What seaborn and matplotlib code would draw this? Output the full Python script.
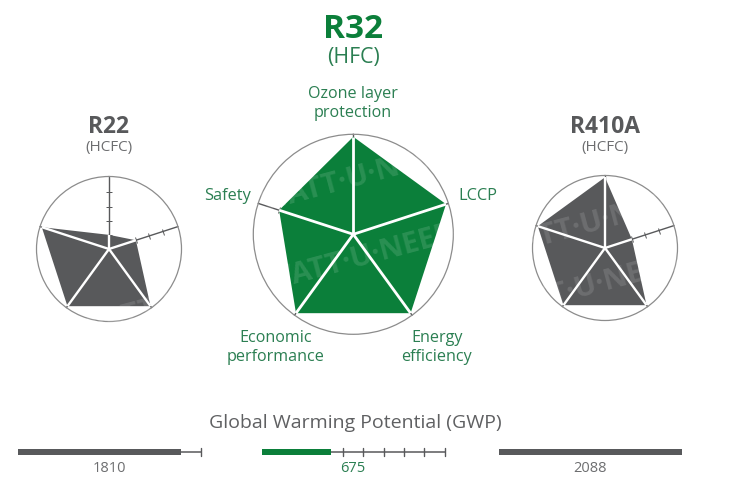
import numpy as np
import matplotlib
matplotlib.use("Agg")
import matplotlib.pyplot as plt
from matplotlib.markers import MarkerStyle
from matplotlib.transforms import Affine2D
import seaborn as sns

# Data
axes_labels = ["Ozone layer\nprotection", "LCCP", "Energy\nefficiency", "Economic\nperformance", "Safety"]
r22_scores = [1, 2, 5, 5, 5]
r32_scores = [5, 5, 5, 5, 4]
r410a_scores = [5, 2, 5, 5, 5]
refrigerants = ["R22", "R32", "R410A"]
families = ["(HCFC)", "(HFC)", "(HCFC)"]
gwp_labels = ["1810", "675", "2088"]
gwp_bar_fraction = [0.89, 0.375, 1.0]   # filled share of each gauge, as drawn

GREEN = "#0B7F3A"
GREEN_TEXT = "#2B7F52"
GRAY = "#58595B"
GRAY_TEXT = "#6D6E70"
RING = "#8C8C8C"
MAX_R = 5 / 0.975

sns.set_theme(style="white")
plt.rcParams["font.family"] = ["Open Sans", "DejaVu Sans"]
W, H = 747, 500
fig = plt.figure(figsize=(W / 100, H / 100), dpi=100, facecolor="white")


def pixel_rect(x0, y0, x1, y1):
    return [x0 / W, 1 - y1 / H, (x1 - x0) / W, (y1 - y0) / H]


def radar(cx, cy, R, scores, color, watermarks):
    ax = fig.add_axes(pixel_rect(cx - R, cy - R, cx + R, cy + R), projection="polar")
    ax.set_theta_zero_location("N")
    ax.set_theta_direction(-1)
    ax.set_ylim(0, MAX_R)
    ax.set_xticks([]); ax.set_yticks([])
    ax.grid(False)
    ax.spines["polar"].set_color(RING)
    ax.spines["polar"].set_linewidth(0.9)
    ax.patch.set_alpha(0)
    theta = np.deg2rad(np.arange(5) * 72.0)
    for t in theta:
        ax.plot([t, t], [0, MAX_R], color=GRAY, lw=1.0, zorder=2, clip_on=False)
        marker = MarkerStyle("_", transform=Affine2D().rotate_deg(-np.rad2deg(t)))
        ln = ax.plot([t] * 4, [1, 2, 3, 4], ls="", marker=marker, ms=4, mew=0.7, color=GRAY, zorder=2)[0]
        ln.set_snap(False)
    tc = np.r_[theta, theta[0]]
    rc = np.r_[scores, scores[0]]
    poly = ax.fill(tc, rc, color=color, lw=0, zorder=3)[0]
    for (px, py, rot) in watermarks:
        txt = ax.text(px, py, "WATT·U·NEED", transform=ax.transAxes, color="white", alpha=0.13,
                      fontsize=21, rotation=rot, ha="center", va="center",
                      fontweight="bold", zorder=4)
        txt.set_clip_path(poly)
    for t, s in zip(theta, scores):
        ax.plot([t, t], [0, s], color="white", lw=2.0 if R > 90 else 1.7, zorder=5, solid_capstyle="butt")
    return ax


radar(109, 249, 72.5, r22_scores, GRAY, [(0.95, 0.12, 15)])
radar(353.3, 234.3, 100, r32_scores, GREEN, [(0.52, 0.78, 15), (0.54, 0.38, 15)])
radar(605, 248, 72.5, r410a_scores, GRAY, [(0.40, 0.66, 15), (0.36, 0.22, 15)])


def gauge(x0, x1, y, frac, color):
    ax = fig.add_axes(pixel_rect(x0, y - 6, x1 + 1, y + 6))
    ax.patch.set_alpha(0)
    sns.barplot(x=[frac], y=[0], orient="h", color=color, ax=ax, width=0.58, saturation=1,
                legend=False, edgecolor=color, linewidth=0)
    ax.set_xlim(0, 1); ax.set_ylim(0.5, -0.5)
    ax.axhline(0, color=GRAY, lw=1.1, zorder=0)
    for k in range(1, 10):
        f = k / 9
        if f >= frac + 0.01:
            ax.plot([f - 0.002] * 2, [-0.32, 0.32], color=GRAY, lw=1.0, zorder=1, clip_on=False)
    ax.axis("off")


gauge(18, 200, 452, gwp_bar_fraction[0], GRAY)
gauge(262, 444, 452, gwp_bar_fraction[1], GREEN)
gauge(499, 681, 452, gwp_bar_fraction[2], GRAY)

# text overlay
ov = fig.add_axes([0, 0, 1, 1])
ov.set_xlim(0, W); ov.set_ylim(H, 0); ov.axis("off"); ov.patch.set_alpha(0)


def t(x, y, s, size, color, weight="normal", ha="center", ls=1.3):
    ov.text(x, y, s, fontsize=size, color=color, fontweight=weight, ha=ha, va="center", linespacing=ls)


t(353.5, 30, refrigerants[1], 24, GREEN, "bold")
t(353.5, 58, families[1], 15.3, GREEN_TEXT)
t(109, 127, refrigerants[0], 16.5, GRAY, "bold")
t(109, 147, families[0], 11, GRAY_TEXT)
t(605, 127, refrigerants[2], 16.5, GRAY, "bold")
t(605, 147, families[2], 11, GRAY_TEXT)

t(353, 103.5, axes_labels[0], 11.6, GREEN_TEXT)
t(477.5, 196, axes_labels[1], 11.8, GREEN_TEXT)
t(437, 347.5, axes_labels[2], 11.6, GREEN_TEXT)
t(276, 347.5, axes_labels[3], 11.6, GREEN_TEXT)
t(228, 196, axes_labels[4], 11.8, GREEN_TEXT)

t(355.5, 423, "Global Warming Potential (GWP)", 14, "#5F6062")
t(109, 468, gwp_labels[0], 10.5, GRAY_TEXT)
t(353, 468, gwp_labels[1], 10.5, GREEN_TEXT)
t(590, 468, gwp_labels[2], 10.5, GRAY_TEXT)

fig.savefig("out.png", dpi=100)
